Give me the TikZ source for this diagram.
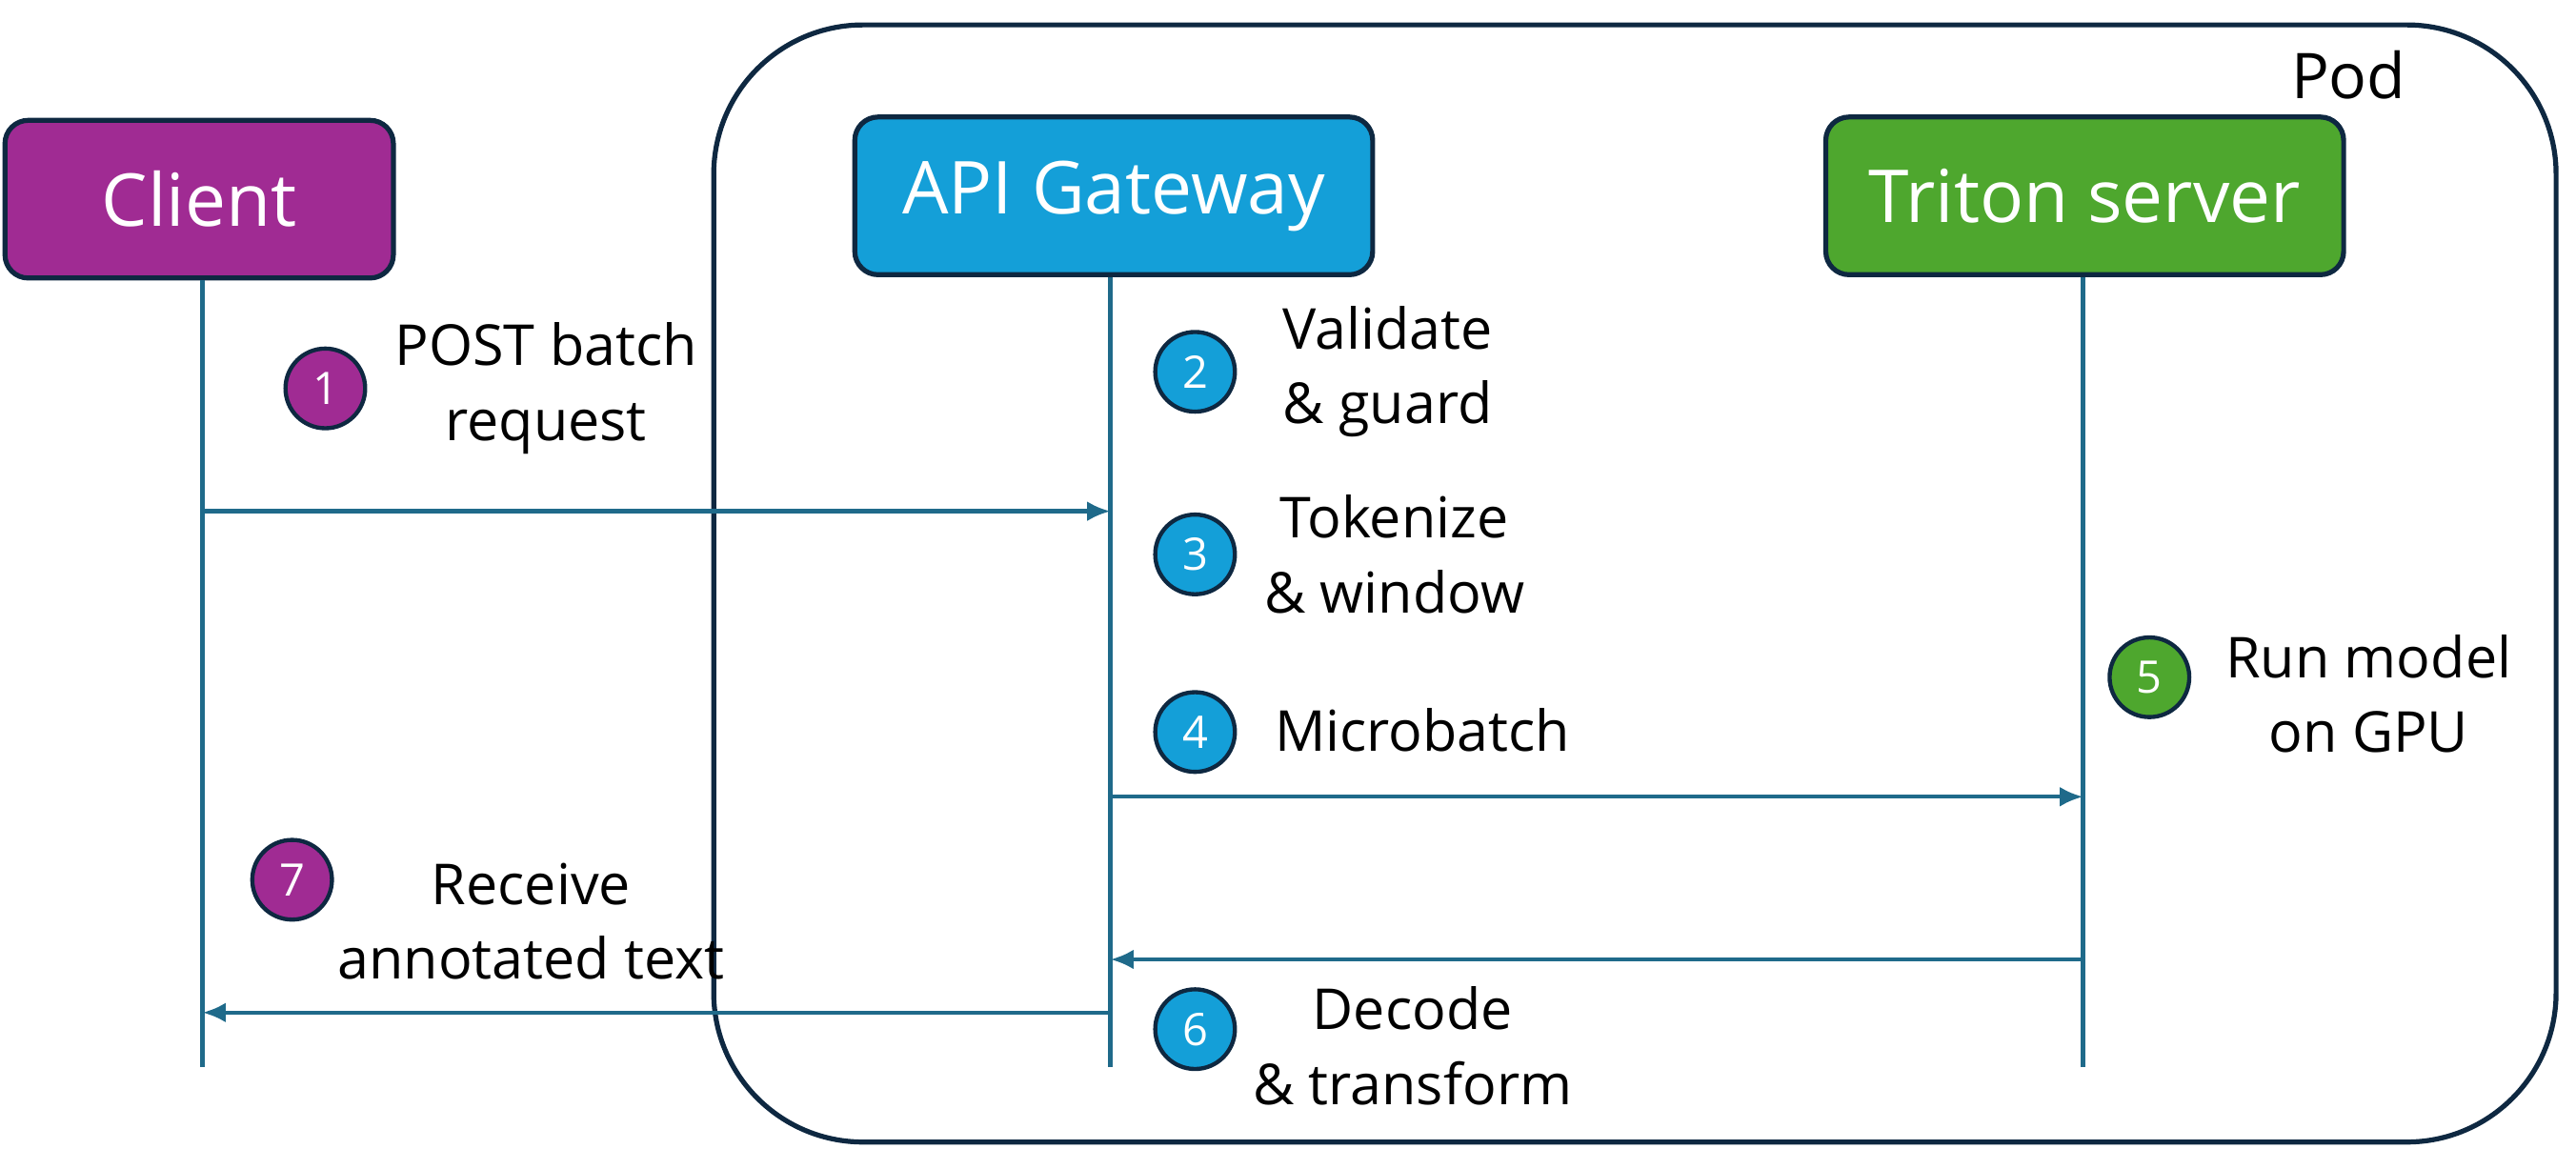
\documentclass[tikz,border=0pt]{standalone}
\usepackage{fontspec}
\setmainfont{Open Sans}
\definecolor{cpurple}{HTML}{A02B93}
\definecolor{cblue}{HTML}{149FD8}
\definecolor{cgreen}{HTML}{4EA72E}
\definecolor{cline}{HTML}{1F6A8A}
\definecolor{cdark}{HTML}{0E2841}
\begin{document}
\begin{tikzpicture}[x=1pt,y=-1pt,
  actor/.style={draw=cdark,line width=3pt,rounded corners=14pt,minimum width=#1,minimum height=95,text=white,font=\fontsize{44}{48}\selectfont},
  life/.style={cline,line width=2.5pt},
  msg/.style={cline,line width=2.5pt,-{Latex[length=14pt,width=12pt]}},
  num/.style={circle,draw=cdark,line width=2.5pt,minimum size=48,inner sep=0pt,text=white,font=\fontsize{27}{30}\selectfont},
  lbl/.style={align=center,font=\fontsize{34}{45}\selectfont}]
\usetikzlibrary{arrows.meta}
\useasboundingbox (0,0) rectangle (1552,692);
\draw[cdark,line width=3pt,rounded corners=90pt] (430,15) rectangle (1540,688);
\node[font=\fontsize{38}{40}\selectfont] (pod) at (1415,45) {Pod};
\node[actor=234,fill=cpurple] (client) at (120,120) {Client};
\node[actor=312,fill=cblue] (api) at (671,118) {API Gateway};
\node[actor=312,fill=cgreen] (triton) at (1256,118) {Triton server};
\coordinate (ce) at (122,643);
\coordinate (ae) at (669,643);
\coordinate (te) at (1255,643);
\draw[life] (client.south -| ce) -- (ce);
\draw[life] (api.south -| ae) -- (ae);
\draw[life] (triton.south -| te) -- (te);
\coordinate (c1) at (122,308); \coordinate (a1) at (669,308);
\coordinate (a2) at (669,480); \coordinate (t2) at (1255,480);
\coordinate (t3) at (1255,578); \coordinate (a3) at (669,578);
\coordinate (a4) at (669,610); \coordinate (c4) at (122,610);
\draw[msg] (c1) -- (a1);
\draw[msg] (a2) -- (t2);
\draw[msg] (t3) -- (a3);
\draw[msg] (a4) -- (c4);
\node[num,fill=cpurple] (n1) at (196,234) {1};
\node[num,fill=cblue] (n2) at (720,224) {2};
\node[num,fill=cblue] (n3) at (720,334) {3};
\node[num,fill=cblue] (n4) at (720,441) {4};
\node[num,fill=cgreen] (n5) at (1295,408) {5};
\node[num,fill=cblue] (n6) at (720,620) {6};
\node[num,fill=cpurple] (n7) at (176,530) {7};
\node[lbl] (l1) at (329,234) {POST batch\\request};
\node[lbl] (l2) at (836,224) {Validate\\\& guard};
\node[lbl] (l3) at (840,334) {Tokenize\\\& window};
\node[lbl] (l4) at (857,440) {Microbatch};
\node[lbl] (l5) at (1427,418) {Run model\\on GPU};
\node[lbl] (l6) at (851,630) {Decode\\\& transform};
\node[lbl] (l7) at (320,555) {Receive\\annotated text};
\end{tikzpicture}
\end{document}
